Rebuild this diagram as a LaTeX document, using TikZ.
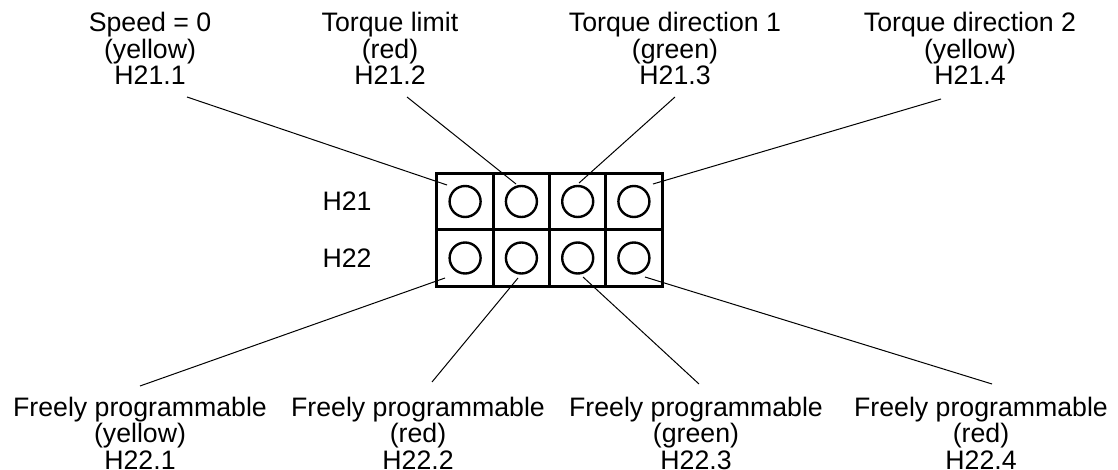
\documentclass[tikz,border=0pt]{standalone}
\usepackage{fontspec}
\setmainfont{Liberation Sans}
\usetikzlibrary{calc}

\tikzset{
  cell/.style={draw, line width=3pt, minimum width=56.25pt, minimum height=56.5pt, inner sep=0pt},
  lamp/.style={draw, circle, line width=2.4pt, minimum size=31pt, inner sep=0pt},
  tag/.style={align=center, inner sep=0pt, font=\fontsize{26.7}{26.5}\selectfont},
  leader/.style={line width=1pt},
}

\begin{document}
\begin{tikzpicture}[x=1pt,y=-1pt]
  \useasboundingbox (0,0) rectangle (1118,470);

  % 指示灯面板
  \foreach \i/\x in {1/465.1,2/521.4,3/577.7,4/633.9}{
    \node[cell] (h21-\i) at (\x,201.5) {};
    \node[cell] (h22-\i) at (\x,258) {};
    \node[lamp] (l21-\i) at (h21-\i) {};
    \node[lamp] (l22-\i) at (h22-\i) {};
  }
  \node[tag] (r21) at (347,201.5) {H21};
  \node[tag] (r22) at (347,258) {H22};

  % 上方标签
  \node[tag, anchor=base] (t1) at (150,85) {Speed = 0\\(yellow)\\H21.1};
  \node[tag, anchor=base] (t2) at (390,85) {Torque limit\\(red)\\H21.2};
  \node[tag, anchor=base] (t3) at (675,85) {Torque direction 1\\(green)\\H21.3};
  \node[tag, anchor=base] (t4) at (970,85) {Torque direction 2\\(yellow)\\H21.4};

  % 下方标签
  \node[tag, anchor=base] (b1) at (140,469) {Freely programmable\\(yellow)\\H22.1};
  \node[tag, anchor=base] (b2) at (418,469) {Freely programmable\\(red)\\H22.2};
  \node[tag, anchor=base] (b3) at (696,469) {Freely programmable\\(green)\\H22.3};
  \node[tag, anchor=base] (b4) at (981,469) {Freely programmable\\(red)\\H22.4};

  % 引线端点
  \coordinate (t1-e) at (187,97);
  \coordinate (t2-e) at (407,97);
  \coordinate (t3-e) at (675,97);
  \coordinate (t4-e) at (941,99);
  \coordinate (h21-1-e) at (447,185);
  \coordinate (h21-2-e) at (516,184);
  \coordinate (h21-3-e) at (579,183);
  \coordinate (h21-4-e) at (653,184);
  \coordinate (h22-1-e) at (445,278);
  \coordinate (h22-2-e) at (518,278);
  \coordinate (h22-3-e) at (583,277);
  \coordinate (h22-4-e) at (645,277);
  \coordinate (b1-e) at (140,386);
  \coordinate (b2-e) at (432,382);
  \coordinate (b3-e) at (699,384);
  \coordinate (b4-e) at (992,384);

  % 引线
  \foreach \i in {1,2,3,4}{
    \draw[leader] (t\i-e) -- (h21-\i-e);
    \draw[leader] (h22-\i-e) -- (b\i-e);
  }
\end{tikzpicture}
\end{document}
